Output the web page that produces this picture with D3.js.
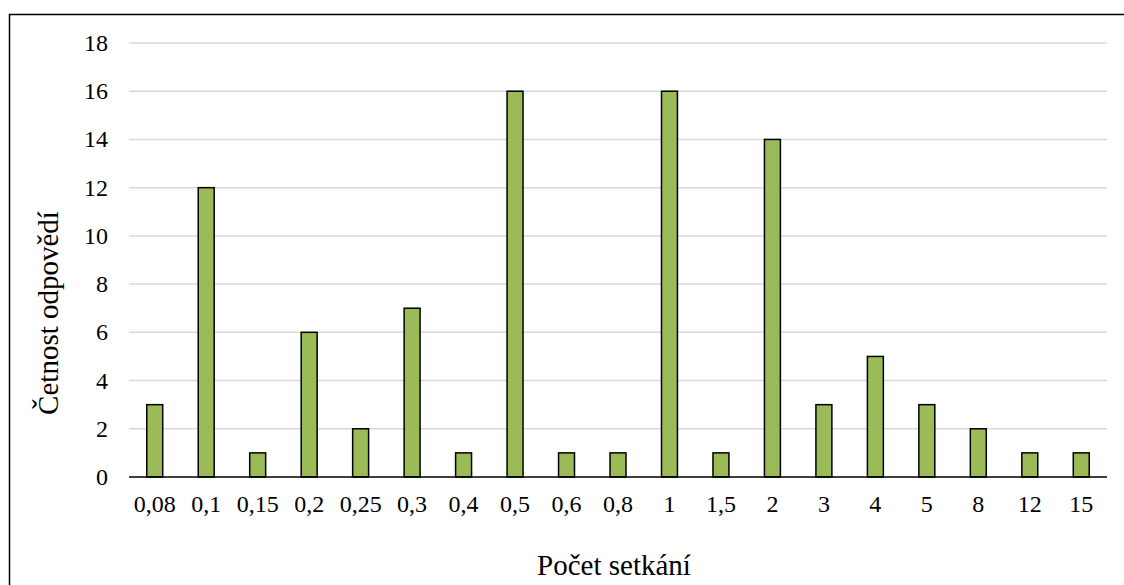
<!DOCTYPE html>
<html>
<head>
<meta charset="utf-8">
<script src="https://cdn.jsdelivr.net/npm/d3@7"></script>
<style>
  body { margin: 0; background: #fff; }
  text { font-family: "Liberation Serif", "Times New Roman", serif; fill: #000; }
</style>
</head>
<body>
<svg id="chart" width="1124" height="585"></svg>
<script>
// kategorie a četnosti
var categories = ["0,08", "0,1", "0,15", "0,2", "0,25", "0,3", "0,4", "0,5", "0,6", "0,8",
                  "1", "1,5", "2", "3", "4", "5", "8", "12", "15"];
var counts = [3, 12, 1, 6, 2, 7, 1, 16, 1, 1, 16, 1, 14, 3, 5, 3, 2, 1, 1];
var yTicks = [0, 2, 4, 6, 8, 10, 12, 14, 16, 18];

var svg = d3.select("#chart");
var m = { left: 129, right: 1107, top: 43, bottom: 477 };

// rámeček grafu (oříznutý vpravo a dole)
svg.append("rect")
    .attr("x", 9.5).attr("y", 14.5)
    .attr("width", 1130).attr("height", 600)
    .attr("fill", "none").attr("stroke", "#000").attr("stroke-width", 1.5);

var x = d3.scaleBand().domain(categories).range([m.left, m.right]).paddingInner(0.69).paddingOuter(0.345);
var y = d3.scaleLinear().domain([0, 18]).range([m.bottom, m.top]);

// mřížka
svg.append("g").selectAll("line")
    .data(yTicks.slice(1))
    .enter().append("line")
    .attr("x1", m.left).attr("x2", m.right)
    .attr("y1", function(d) { return y(d); })
    .attr("y2", function(d) { return y(d); })
    .attr("stroke", "#d9d9d9").attr("stroke-width", 1.5);

// sloupce
svg.append("g").selectAll("rect")
    .data(counts)
    .enter().append("rect")
    .attr("x", function(d, i) { return x(categories[i]); })
    .attr("y", function(d) { return y(d); })
    .attr("width", x.bandwidth())
    .attr("height", function(d) { return y(0) - y(d); })
    .attr("fill", "#9bbb59").attr("stroke", "#000").attr("stroke-width", 1.5);

// osa x
svg.append("line")
    .attr("x1", m.left).attr("x2", m.right)
    .attr("y1", y(0)).attr("y2", y(0))
    .attr("stroke", "#000").attr("stroke-width", 1.5);

svg.append("g").selectAll("text")
    .data(categories)
    .enter().append("text")
    .attr("x", function(d) { return x(d) + x.bandwidth() / 2; })
    .attr("y", 512)
    .attr("text-anchor", "middle")
    .attr("font-size", 24)
    .text(function(d) { return d; });

// osa y – popisky
svg.append("g").selectAll("text")
    .data(yTicks)
    .enter().append("text")
    .attr("x", 108)
    .attr("y", function(d) { return y(d) + 8; })
    .attr("text-anchor", "end")
    .attr("font-size", 24)
    .text(function(d) { return d; });

// názvy os
svg.append("text")
    .attr("x", 614).attr("y", 575)
    .attr("text-anchor", "middle").attr("font-size", 29)
    .text("Počet setkání");

svg.append("text")
    .attr("transform", "translate(58,313) rotate(-90)")
    .attr("text-anchor", "middle").attr("font-size", 29)
    .text("Četnost odpovědí");
</script>
</body>
</html>
